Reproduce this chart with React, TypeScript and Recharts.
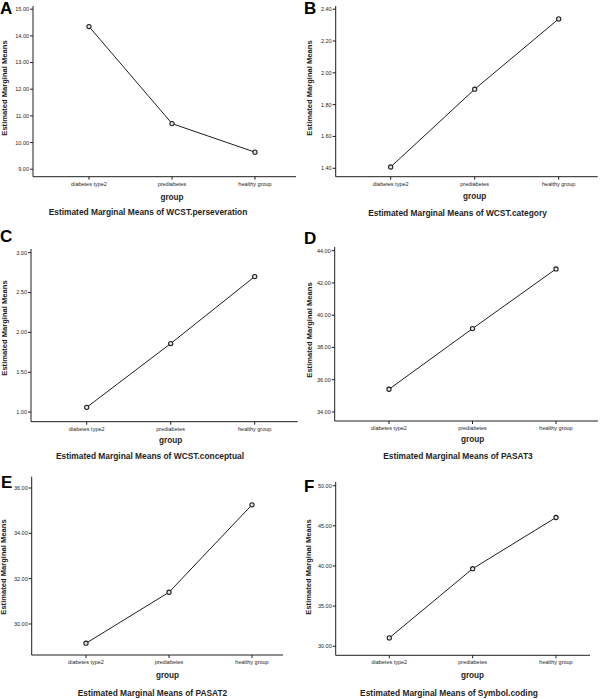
import { LineChart, Line, XAxis, YAxis } from "recharts";

const groups = ["diabetes type2", "prediabetes", "healthy group"];

const perseveration = [14.35, 10.71, 9.64];
const category = [1.408, 1.897, 2.339];
const conceptual = [1.06, 1.86, 2.7];
const pasat3 = [35.41, 39.17, 42.87];
const pasat2 = [29.15, 31.4, 35.26];
const symbolCoding = [31.04, 39.66, 46.04];

const ticksA = [9, 10, 11, 12, 13, 14, 15];
const ticksB = [1.4, 1.6, 1.8, 2.0, 2.2, 2.4];
const ticksC = [1.0, 1.5, 2.0, 2.5, 3.0];
const ticksD = [34, 36, 38, 40, 42, 44];
const ticksE = [30, 32, 34, 36];
const ticksF = [30, 35, 40, 45, 50];

const titles = [
  "Estimated Marginal Means of WCST.perseveration",
  "Estimated Marginal Means of WCST.category",
  "Estimated Marginal Means of WCST.conceptual",
  "Estimated Marginal Means of PASAT3",
  "Estimated Marginal Means of PASAT2",
  "Estimated Marginal Means of Symbol.coding",
];
const letters = ["A", "B", "C", "D", "E", "F"];

const FONT = "'Liberation Sans', Arial, sans-serif";
const INK = "#1e1e1e";
const YW = 30;
const XH = 20;

// page layout for each panel: cell box, plot box (page px), label spots
const panels = [
  {
    values: perseveration, ticks: ticksA, domain: [8.72, 15.12],
    cell: [0, 0, 300, 230], plot: [33, 6, 296, 176.7], pad: [56, 41],
    letter: [0, 0], ylab: [5, 88], group: [172, 198], title: [148, 212],
  },
  {
    values: category, ticks: ticksB, domain: [1.347, 2.42],
    cell: [300, 0, 300, 230], plot: [335.7, 6, 597.7, 176.7], pad: [55, 39],
    letter: [304, 0], ylab: [310, 88], group: [474.7, 197], title: [457.5, 213],
  },
  {
    values: conceptual, ticks: ticksC, domain: [0.88, 3.046],
    cell: [0, 230, 300, 230], plot: [31, 249, 297.7, 421.7], pad: [55.7, 43],
    letter: [0, 228], ylab: [5, 328], group: [170.7, 440.7], title: [150, 456],
  },
  {
    values: pasat3, ticks: ticksD, domain: [33.44, 44.23],
    cell: [300, 230, 300, 230], plot: [334.7, 247, 598, 421], pad: [54.3, 42],
    letter: [304, 230], ylab: [310, 330], group: [472.7, 440], title: [458, 455.7],
  },
  {
    values: pasat2, ticks: ticksE, domain: [28.63, 36.5],
    cell: [0, 460, 300, 239], plot: [31.7, 476.7, 283, 655], pad: [54.3, 31],
    letter: [1, 474], ylab: [4, 567], group: [167.5, 676], title: [152.5, 693],
  },
  {
    values: symbolCoding, ticks: ticksF, domain: [28.87, 50.46],
    cell: [300, 460, 300, 239], plot: [335.7, 482, 590, 655.3], pad: [53.6, 34],
    letter: [304, 478], ylab: [309, 567], group: [472.5, 676], title: [449, 693],
  },
];

type PanelCfg = (typeof panels)[number];

function Text({ x, y, size, weight, rotate, children }: {
  x: number; y: number; size: number; weight?: number | string; rotate?: boolean; children: string;
}) {
  return (
    <div
      style={{
        position: "absolute", left: x, top: y, whiteSpace: "nowrap",
        fontFamily: FONT, fontSize: size, fontWeight: weight ?? "normal", color: INK,
        lineHeight: 1,
        transform: `translate(-50%, -50%)${rotate ? " rotate(-90deg)" : ""}`,
      }}
    >
      {children}
    </div>
  );
}

function Panel({ cfg, idx }: { cfg: PanelCfg; idx: number }) {
  const [cx, cy, cw, ch] = cfg.cell;
  const [pl, pt, pr, pb] = cfg.plot;
  const data = groups.map((g, i) => ({ group: g, value: cfg.values[i] }));
  const tickStyle = { fontSize: 5.5, fill: INK, fontFamily: FONT };
  return (
    <>
      <div style={{ position: "absolute", left: cx, top: cy }}>
        <LineChart
          width={cw}
          height={ch}
          data={data}
          margin={{ top: pt - cy, left: pl - cx - YW, right: cx + cw - pr, bottom: cy + ch - pb - XH }}
        >
          <XAxis
            dataKey="group"
            height={XH}
            interval={0}
            padding={{ left: cfg.pad[0], right: cfg.pad[1] }}
            tick={tickStyle}
            tickSize={3}
            tickMargin={2}
            axisLine={{ stroke: INK }}
            tickLine={{ stroke: INK }}
          />
          <YAxis
            type="number"
            width={YW}
            domain={cfg.domain}
            ticks={cfg.ticks}
            allowDataOverflow
            tickFormatter={(v: number) => v.toFixed(2)}
            tick={tickStyle}
            tickSize={3}
            tickMargin={1}
            axisLine={{ stroke: INK }}
            tickLine={{ stroke: INK }}
          />
          <Line
            dataKey="value"
            type="linear"
            stroke={INK}
            strokeWidth={1}
            dot={{ r: 2.1, fill: "#e8e8e8", stroke: INK, strokeWidth: 1.1 }}
            isAnimationActive={false}
          />
        </LineChart>
      </div>
      <div
        style={{
          position: "absolute", left: cfg.letter[0], top: cfg.letter[1],
          fontFamily: FONT, fontWeight: "bold", fontSize: 17, lineHeight: 1, color: "#000",
        }}
      >
        {letters[idx]}
      </div>
      <Text x={cfg.ylab[0]} y={cfg.ylab[1]} size={7.6} weight="bold" rotate>Estimated Marginal Means</Text>
      <Text x={cfg.group[0]} y={cfg.group[1]} size={8.2} weight="bold">group</Text>
      <Text x={cfg.title[0]} y={cfg.title[1]} size={8.4} weight="bold">{titles[idx]}</Text>
    </>
  );
}

export default function App() {
  return (
    <div style={{ position: "absolute", left: 0, top: 0, width: 600, height: 699, background: "#fff", overflow: "hidden" }}>
      {panels.map((p, i) => (
        <Panel key={i} cfg={p} idx={i} />
      ))}
    </div>
  );
}
